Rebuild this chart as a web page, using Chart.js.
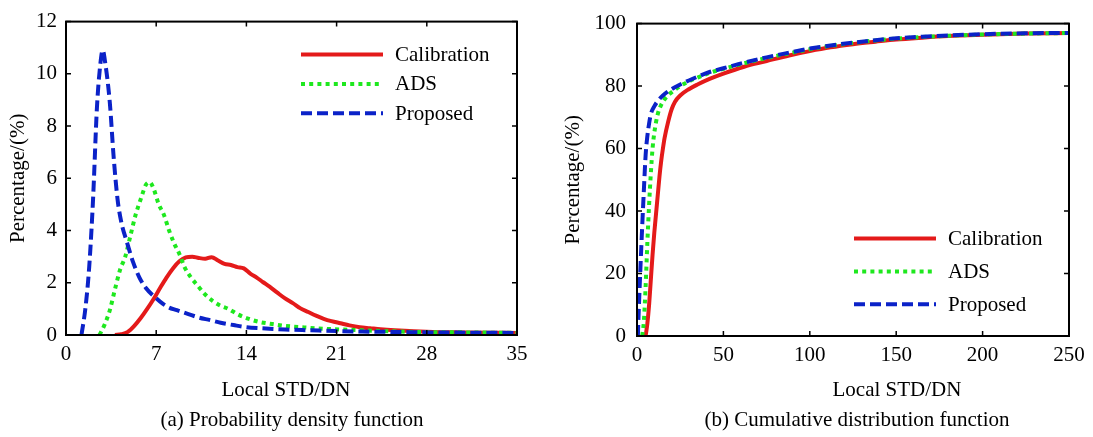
<!DOCTYPE html>
<html>
<head>
<meta charset="utf-8">
<script src="https://cdn.jsdelivr.net/npm/chart.js@4.4.1/dist/chart.umd.min.js"></script>
<style>
  body { margin: 0; background: #fff; }
  #wrap { position: relative; width: 1093px; height: 437px; overflow: hidden; font-family: "Liberation Serif", "Times New Roman", serif; }
  canvas { position: absolute; top: 0; }
  .lbl { position: absolute; font-size: 21px; line-height: 25px; white-space: nowrap; transform: translateX(-50%); color: #000; }
</style>
</head>
<body>
<div id="wrap">
  <canvas id="pdfChart" width="546" height="437" style="left:0px"></canvas>
  <canvas id="cdfChart" width="547" height="437" style="left:546px"></canvas>
  <div class="lbl" style="left:286px; top:377px">Local STD/DN</div>
  <div class="lbl" style="left:292px; top:407px">(a) Probability density function</div>
  <div class="lbl" style="left:897px; top:377px">Local STD/DN</div>
  <div class="lbl" style="left:857px; top:407px">(b) Cumulative distribution function</div>
</div>
<script>
var seriesNames = ['Calibration', 'ADS', 'Proposed'];

// (a) probability density
var pdfCalX = [3.8,4.3,4.8,5.3,5.8,6.3,6.8,7.3,7.8,8.3,8.8,9.3,9.8,10.3,10.8,11.3,11.8,12.3,12.8,13.3,13.8,14.3,14.8,15.3,15.8,16.4,17,17.6,18.2,18.8,19.4,20,20.6,21.3,22,22.8,23.6,24.4,25.5,27,29,31,33,35];
var pdfCalY = [0,0.03,0.12,0.35,0.65,1.0,1.38,1.8,2.2,2.55,2.82,2.97,3.0,2.95,2.92,2.98,2.85,2.72,2.68,2.6,2.55,2.35,2.2,2.02,1.85,1.62,1.4,1.22,1.02,0.88,0.74,0.62,0.53,0.45,0.37,0.3,0.26,0.22,0.18,0.14,0.11,0.1,0.09,0.08];
var pdfAdsX = [2.6,3.0,3.4,3.8,4.2,4.6,5.0,5.4,5.8,6.2,6.5,6.8,7.2,7.6,8.0,8.4,8.8,9.2,9.7,10.2,10.8,11.4,12,12.6,13.3,14,15,16,17,18.5,20,22,24,26,28,31,35];
var pdfAdsY = [0,0.4,0.95,1.75,2.5,3.0,3.8,4.6,5.2,5.75,5.85,5.6,5.0,4.6,4.0,3.5,3.1,2.6,2.2,1.9,1.55,1.3,1.12,1.0,0.8,0.65,0.5,0.42,0.35,0.29,0.24,0.2,0.16,0.13,0.11,0.1,0.08];
var pdfPropX = [1.2,1.5,1.8,2.1,2.4,2.65,2.85,3.05,3.4,3.7,4.0,4.3,4.7,5.2,5.7,6.2,6.9,7.5,8.0,8.6,9.5,10.3,11.2,12,13,14,15.5,17,19,21,23,25,28,31,35];
var pdfPropY = [0,1.0,2.6,5.2,8.7,10.3,10.9,10.4,8.9,6.8,5.2,4.3,3.6,2.8,2.2,1.8,1.45,1.2,1.05,0.95,0.8,0.67,0.57,0.47,0.38,0.3,0.25,0.21,0.18,0.15,0.13,0.12,0.1,0.09,0.08];

// (b) cumulative distribution
var cdfCalX = [5,6,7,8,9,10,11,12,13,14,15,16,18,20,22,25,30,35,42,50,62,75,88,100,112,125,138,150,165,180,200,225,250];
var cdfCalY = [0,4,10,18,26,33,39,45,51,56,60,63.5,68.5,72.5,75,77,79,80.5,82.3,84,86.2,88,89.8,91.2,92.4,93.4,94.2,94.9,95.5,96,96.4,96.8,97];
var cdfAdsX = [3,4,5,6,7,8,9,10,12,14,17,20,25,30,35,42,50,62,75,88,100,112,125,138,150,165,180,200,225,250];
var cdfAdsY = [0,5,16,30,42,52,60,65,71,74,76.5,78,80,81.5,82.7,84.2,85.5,87.3,89,90.5,91.8,92.9,93.8,94.6,95.2,95.7,96.1,96.5,96.8,97];
var cdfPropX = [0.5,1,2,3,4,5,6,7,8,10,12,15,20,25,30,35,42,50,62,75,88,100,112,125,138,150,165,180,200,225,250];
var cdfPropY = [0,8,22,35,47,58,64,68,71,73.5,75.2,77,79,80.5,81.8,83,84.5,85.7,87.5,89.2,90.7,92,93,93.9,94.7,95.3,95.8,96.2,96.6,96.9,97];

var lineColors = ['#e41a1a', '#1ee81e', '#0b22c8'];
var lineDashes = [[], [4, 4.2], [11, 5]];

Chart.defaults.font.family = '"Liberation Serif", "Times New Roman", serif';
Chart.defaults.font.size = 21;
Chart.defaults.color = '#000';

function pts(xs, ys) {
    return xs.map(function(x, i) { return {x: x, y: ys[i]}; });
}

function makeSets(groups) {
    return groups.map(function(g, i) {
        return {
            label: seriesNames[i],
            data: pts(g[0], g[1]),
            borderColor: lineColors[i],
            borderWidth: 4,
            borderDash: lineDashes[i],
            borderCapStyle: 'butt',
            pointRadius: 0,
            fill: false,
            cubicInterpolationMode: 'monotone',
            order: 3 - i
        };
    });
}

// frame with inward ticks + legend inside the plot
var framePlugin = {
    id: 'frame',
    afterDraw: function(chart, args, opts) {
        var ctx = chart.ctx, a = chart.chartArea;
        var xs = chart.scales.x, ys = chart.scales.y;
        ctx.save();
        ctx.strokeStyle = '#000';
        ctx.lineWidth = 1.5;
        ctx.setLineDash([]);
        ctx.beginPath();
        xs.ticks.forEach(function(t) {
            var p = xs.getPixelForValue(t.value);
            ctx.moveTo(p, a.bottom); ctx.lineTo(p, a.bottom - 5);
            ctx.moveTo(p, a.top); ctx.lineTo(p, a.top + 5);
        });
        ys.ticks.forEach(function(t) {
            var p = ys.getPixelForValue(t.value);
            ctx.moveTo(a.left, p); ctx.lineTo(a.left + 5, p);
            ctx.moveTo(a.right, p); ctx.lineTo(a.right - 5, p);
        });
        ctx.stroke();
        ctx.lineWidth = 2;
        ctx.strokeRect(a.left, a.top, a.right - a.left, a.bottom - a.top);

        // legend
        var lx = a.left + opts.x, ly = a.top + opts.y;
        chart.data.datasets.forEach(function(ds, i) {
            var y = ly + i * opts.gap;
            ctx.beginPath();
            ctx.strokeStyle = ds.borderColor;
            ctx.lineWidth = 4;
            ctx.lineCap = 'butt';
            ctx.setLineDash(ds.borderDash);
            ctx.moveTo(lx, y); ctx.lineTo(lx + 82, y);
            ctx.stroke();
            ctx.setLineDash([]);
            ctx.fillStyle = '#000';
            ctx.font = '21px "Liberation Serif", "Times New Roman", serif';
            ctx.textBaseline = 'middle';
            ctx.textAlign = 'left';
            ctx.fillText(ds.label, lx + 94, y + 1);
        });
        ctx.restore();
    }
};

function setChart(id, groups, xMax, xStep, yMax, yStep, lay) {
    return new Chart(document.getElementById(id), {
        type: 'line',
        data: { datasets: makeSets(groups) },
        plugins: [framePlugin],
        options: {
            responsive: false,
            animation: false,
            layout: { padding: { left: 0, top: lay.top, right: lay.right, bottom: 0 } },
            plugins: {
                legend: { display: false },
                tooltip: { enabled: false },
                frame: lay.legend
            },
            scales: {
                x: {
                    type: 'linear',
                    min: 0, max: xMax,
                    grid: { display: false, drawTicks: false },
                    border: { display: false },
                    ticks: { stepSize: xStep, padding: 7, maxRotation: 0 },
                    afterFit: function(s) { s.height = lay.xh; }
                },
                y: {
                    min: 0, max: yMax,
                    grid: { display: false, drawTicks: false },
                    border: { display: false },
                    ticks: { stepSize: yStep, padding: lay.tickPad },
                    title: { display: true, text: 'Percentage/(%)', padding: { top: lay.titlePad, bottom: 0 } },
                    afterFit: function(s) { s.width = lay.yw; }
                }
            }
        }
    });
}

setChart('pdfChart',
    [[pdfCalX, pdfCalY], [pdfAdsX, pdfAdsY], [pdfPropX, pdfPropY]],
    35, 7, 12, 2,
    { top: 19, right: 29, xh: 102, yw: 66, tickPad: 9, titlePad: 6,
      legend: { x: 235, y: 33, gap: 29.3 } });

setChart('cdfChart',
    [[cdfCalX, cdfCalY], [cdfAdsX, cdfAdsY], [cdfPropX, cdfPropY]],
    250, 50, 100, 20,
    { top: 20, right: 24, xh: 101, yw: 91, tickPad: 11, titlePad: 15,
      legend: { x: 217, y: 215, gap: 32.8 } });
</script>
</body>
</html>
